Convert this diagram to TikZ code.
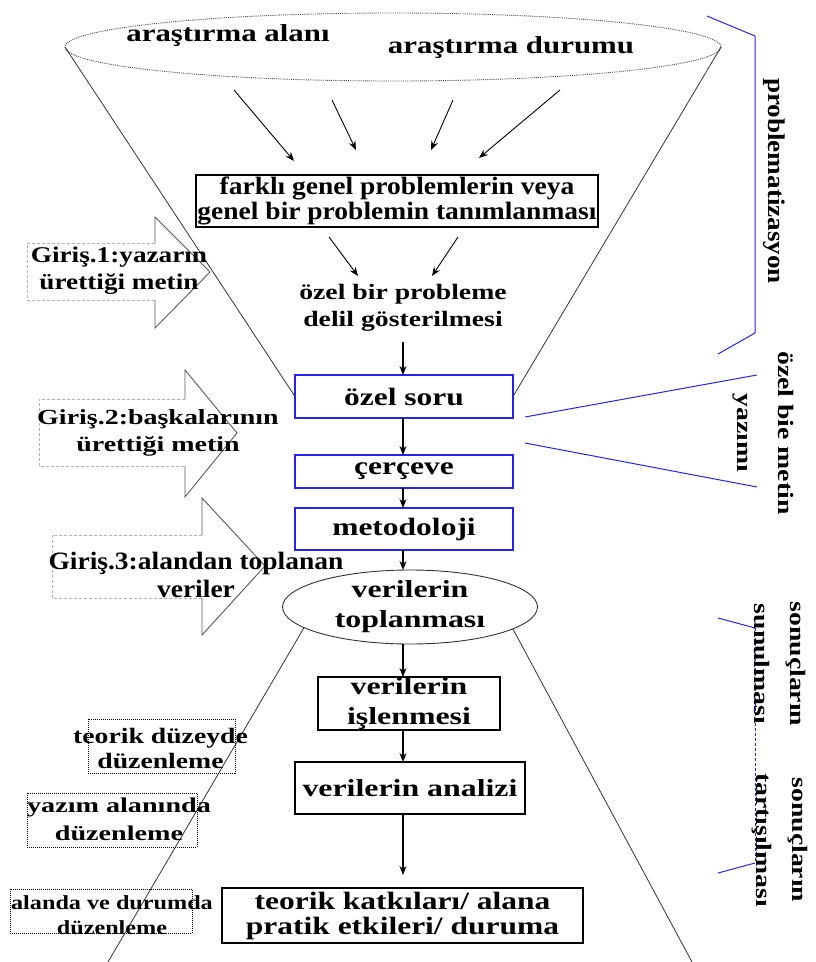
\documentclass[tikz,border=0pt]{standalone}
\usepackage{fontspec}
\setmainfont{Liberation Serif}
\newfontfamily\fa{Liberation Serif}[FakeStretch=1.10]
\newfontfamily\fb{Liberation Serif}[FakeStretch=1.21]
\newfontfamily\fc{Liberation Serif}[FakeStretch=1.26]
\newfontfamily\fd{Liberation Serif}[FakeStretch=1.30]
\newfontfamily\fe{Liberation Serif}[FakeStretch=1.34]
\newfontfamily\fg{Liberation Serif}[FakeStretch=1.13]
\usetikzlibrary{shapes.geometric,arrows.meta}
\definecolor{bl}{RGB}{35,35,245}
\begin{document}
\begin{tikzpicture}[x=1pt,y=-1pt,
 every node/.style={inner sep=0pt,outer sep=0pt,align=center},
 fnt/.style n args={3}{font=#1\bfseries\fontsize{#2}{#3}\selectfont},
 bbox/.style={draw=black,line width=1.3pt},
 bluebox/.style={draw=bl,line width=1.3pt,minimum width=218pt},
 arr/.style={-{Stealth[length=9pt,width=7pt]},line width=1.1pt},
 funnel/.style={line width=0.8pt,draw=black!80},
 brk/.style={draw=bl,line width=1pt},
 barrow/.style={draw=gray!60,densely dashed,line width=0.8pt},
 bhead/.style={draw=black!65,line width=0.9pt},
 dbox/.style={draw=black,densely dotted,line width=1pt},
 vtext/.style={rotate=-90,align=center}
]
\fill[white] (0,0) rectangle (815,962);
\useasboundingbox (0,0) rectangle (815,962);

% left block arrows
\draw[barrow] (155,243) -- (27,243) -- (27,300) -- (155,300);
\draw[bhead] (155,243) -- (155,217) -- (210,272) -- (155,328) -- (155,300);
\draw[barrow] (185,399) -- (39,399) -- (39,466) -- (185,466);
\draw[bhead] (185,399) -- (185,370) -- (237,433) -- (185,497) -- (185,466);
\draw[barrow] (202,535) -- (52,535) -- (52,598) -- (202,598);
\draw[bhead] (202,535) -- (202,498) -- (265,566) -- (202,635) -- (202,598);

% top ellipse
\node[ellipse,draw=gray!60!black,densely dotted,line width=0.9pt,minimum width=656pt,minimum height=68pt] (top) at (393,47) {};
\node[fnt={\fc}{24.5}{28}] (alan) at (228,36) {araştırma alanı};
\node[fnt={\fc}{24.5}{28}] (durum) at (511,48) {araştırma durumu};

% boxes
\node[fnt={\fa}{25}{25},bbox,minimum width=402pt,minimum height=52pt] (b1) at (397,201) {farklı genel problemlerin veya\\genel bir problemin tanımlanması};
\node[fnt={\fc}{22}{27}] (t3) at (403,308) {özel bir probleme\\delil gösterilmesi};
\node[fnt={\fc}{25}{28},bluebox,minimum height=43pt] (sq) at (404,396.5) {özel soru};
\node[fnt={\fc}{25}{28},bluebox,minimum height=33pt] (cer) at (404,471.5) {çerçeve};
\node[fnt={\fc}{25}{28},bluebox,minimum height=42pt] (met) at (404,529) {metodoloji};
\node[fnt={\fd}{24.5}{30},ellipse,draw=black!80,line width=0.9pt,minimum width=255pt,minimum height=74pt] (ell2) at (410,607) {verilerin\\toplanması};
\node[fnt={\fd}{24.5}{30},bbox,minimum width=182pt,minimum height=53pt] (isl) at (409,703.5) {verilerin\\işlenmesi};
\node[fnt={\fd}{24.5}{30},bbox,minimum width=230pt,minimum height=52pt] (an) at (410,788) {verilerin analizi};
\node[fnt={\fc}{25}{25},bbox,minimum width=361pt,minimum height=55pt] (tk) at (402.5,915.5) {teorik katkıları/ alana\\pratik etkileri/ duruma};

% funnel
\coordinate (fl) at (108,962);
\coordinate (fr) at (692,962);
\draw[funnel] (top.west) -- (sq.west);
\draw[funnel] (top.east) -- (sq.east);
\draw[funnel] (ell2.191) -- (fl);
\draw[funnel] (ell2.-12) -- (fr);

% arrows from the top ellipse
\coordinate (a1s) at (234,90);  \coordinate (a1e) at (294,161);
\coordinate (a2s) at (332,100); \coordinate (a2e) at (356,150);
\coordinate (a3s) at (453,100); \coordinate (a3e) at (431,150);
\coordinate (a4s) at (560,90);  \coordinate (a4e) at (479,158);
\draw[arr,line width=0.9pt] (a1s) -- (a1e);
\draw[arr,line width=0.9pt] (a2s) -- (a2e);
\draw[arr,line width=0.9pt] (a3s) -- (a3e);
\draw[arr,line width=0.9pt] (a4s) -- (a4e);
\coordinate (b1s) at (329,237); \coordinate (b1e) at (358,276);
\coordinate (b2s) at (458,237); \coordinate (b2e) at (432,276);
\draw[arr,line width=0.9pt] (b1s) -- (b1e);
\draw[arr,line width=0.9pt] (b2s) -- (b2e);

% vertical chain
\coordinate (col) at (403,0);
\draw[arr,shorten <=10pt] (t3.south -| col) -- (sq.north -| col);
\draw[arr] (sq.south -| col) -- (cer.north -| col);
\draw[arr] (cer.south -| col) -- (met.north -| col);
\draw[arr] (met.south -| col) -- (ell2.north -| col);
\draw[arr] (ell2.south -| col) -- (isl.north -| col);
\draw[arr] (isl.south -| col) -- (an.north -| col);
\draw[arr,shorten >=13pt] (an.south -| col) -- (tk.north -| col);

% left texts
\node[fnt={\fb}{22.5}{27}] (g1) at (119,271) {Giriş.1:yazarın\\ürettiği metin};
\node[fnt={\fd}{21.5}{27}] (g2) at (158,433) {Giriş.2:başkalarının\\ürettiği metin};
\node[fnt={\fa}{25}{28}] (g3) at (196,575) {Giriş.3:alandan toplanan\\veriler};

% dotted boxes
\node[dbox,minimum width=147pt,minimum height=54pt] (d1) at (161.5,746) {};
\node[fnt={\fc}{22}{25}] (d1t) at (160.5,748) {teorik düzeyde\\düzenleme};
\node[dbox,minimum width=170pt,minimum height=54pt] (d2) at (112,820) {};
\node[fnt={\fe}{21}{28}] (d2t) at (119,819) {yazım alanında\\düzenleme};
\node[dbox,minimum width=182pt,minimum height=44pt] (d3) at (101,911) {};
\node[fnt={\fb}{20}{25}] (d3t) at (112,915) {alanda ve durumda\\düzenleme};

% right brackets and texts
\draw[brk] (707,16) -- (755,36) -- (755,333) -- (718,354);
\draw[brk] (525,417) -- (757,375);
\draw[brk] (525,443) -- (757,487);
\draw[brk] (718,618) -- (755,628);
\draw[brk,densely dashed,line width=0.6pt] (755,628) -- (755,863);
\draw[brk] (755,863) -- (718,873);
\node[vtext,fnt={\fg}{24}{26}] (prob) at (774,181) {problematizasyon};
\node[vtext,fnt={\fc}{22}{41}] (ozm) at (763,433) {özel bie metin\\yazımı};
\node[vtext,fnt={\fc}{22}{36}] (son1) at (780,664) {sonuçların\\sunulması};
\node[vtext,fnt={\fc}{22}{36}] (son2) at (780,840) {sonuçların\\tartışılması};
\end{tikzpicture}
\end{document}
